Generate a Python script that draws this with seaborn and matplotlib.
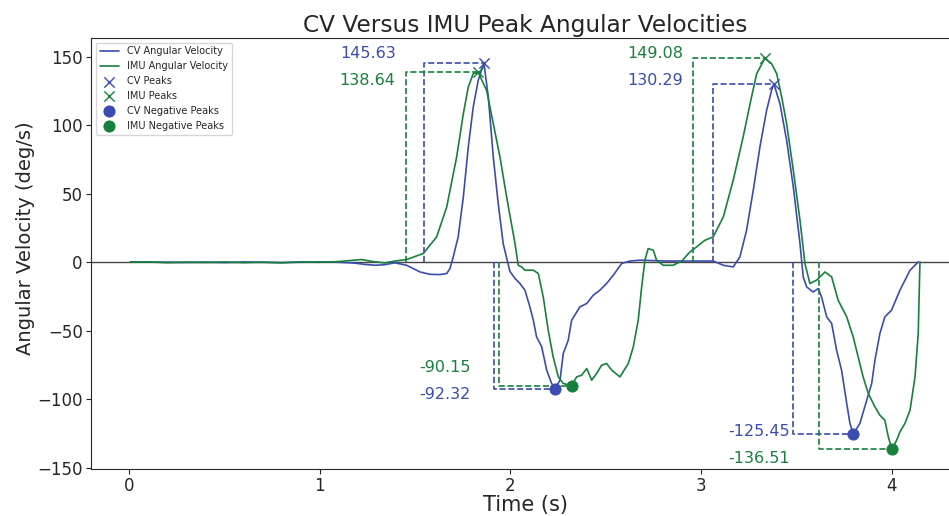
import matplotlib
matplotlib.use("Agg")
import matplotlib.pyplot as plt
import seaborn as sns
import pandas as pd

# CV (camera) angular velocity trace
cv_time = [0.008, 0.10, 0.20, 0.30, 0.40, 0.50, 0.60, 0.70, 0.80, 0.90, 1.00, 1.10,
           1.18, 1.24, 1.29, 1.34, 1.394, 1.456, 1.526, 1.578, 1.630, 1.666, 1.683,
           1.700, 1.726, 1.753, 1.779, 1.805, 1.831, 1.861, 1.884, 1.910, 1.936, 1.962,
           1.997, 2.024, 2.050, 2.076, 2.102, 2.120, 2.137, 2.164, 2.190, 2.216, 2.233,
           2.260, 2.277, 2.303, 2.321, 2.364, 2.400, 2.434, 2.469, 2.504, 2.539, 2.583,
           2.626, 2.679, 2.819, 2.993, 3.063, 3.116, 3.168, 3.203, 3.238, 3.273, 3.308,
           3.343, 3.369, 3.381, 3.413, 3.448, 3.483, 3.518, 3.535, 3.553, 3.587, 3.614,
           3.631, 3.658, 3.684, 3.710, 3.736, 3.763, 3.780, 3.797, 3.832, 3.868, 3.894,
           3.911, 3.937, 3.963, 3.998, 4.042, 4.095, 4.138]
cv_vel = [0.3, 0.2, 0.0, -0.2, 0.1, -0.3, 0.2, 0.0, -0.2, 0.0, 0.3, 0.0,
          -0.6, -1.6, -2.2, -1.8, -0.4, -2.2, -7.1, -8.8, -9.0, -8.2, -4.6,
          3.9, 18.5, 47.7, 84.2, 113.4, 132.8, 145.63, 120.7, 76.9, 42.8, 13.6,
          -6.6, -11.9, -15.5, -20.4, -32.6, -42.3, -54.5, -61.8, -78.8, -88.5, -92.32,
          -86.1, -66.6, -56.9, -42.3, -32.6, -30.1, -24.1, -20.4, -15.5, -9.5, -0.9,
          0.9, 1.5, 0.9, 0.9, 0.9, -2.2, -3.4, 3.9, 23.4, 52.6, 84.2,
          110.9, 125.5, 130.29, 115.8, 89.1, 55.0, 13.6, -10.7, -18.0, -21.7, -19.2,
          -25.3, -39.9, -44.7, -64.2, -78.8, -103.1, -117.7, -125.45, -117.7, -100.7, -88.5,
          -71.5, -52.0, -39.9, -35.0, -20.4, -5.8, 0.2]

# IMU angular velocity trace
imu_time = [0.008, 0.10, 0.20, 0.30, 0.40, 0.50, 0.60, 0.70, 0.80, 0.90, 1.00, 1.10,
            1.18, 1.22, 1.28, 1.34, 1.40, 1.456, 1.543, 1.613, 1.666, 1.718, 1.753,
            1.779, 1.805, 1.831, 1.875, 1.910, 1.945, 1.980, 2.024, 2.041, 2.059, 2.076,
            2.120, 2.146, 2.172, 2.198, 2.224, 2.251, 2.277, 2.321, 2.347, 2.373, 2.400,
            2.426, 2.452, 2.478, 2.504, 2.531, 2.574, 2.618, 2.644, 2.670, 2.688, 2.705,
            2.722, 2.749, 2.766, 2.801, 2.853, 2.898, 2.941, 2.976, 3.020, 3.063, 3.116,
            3.168, 3.220, 3.264, 3.291, 3.334, 3.369, 3.396, 3.422, 3.448, 3.483, 3.518,
            3.544, 3.570, 3.605, 3.649, 3.684, 3.718, 3.763, 3.797, 3.823, 3.849, 3.876,
            3.911, 3.937, 3.963, 3.981, 4.000, 4.025, 4.042, 4.068, 4.095, 4.121, 4.138,
            4.147]
imu_vel = [0.0, 0.2, -0.3, 0.1, -0.2, 0.2, -0.3, 0.0, -0.4, 0.3, 0.0, 0.5,
           1.5, 2.0, 0.5, -0.5, 1.0, 2.0, 6.4, 18.5, 40.4, 76.9, 108.5,
           128.0, 137.7, 138.64, 125.5, 101.2, 76.9, 47.7, 13.6, -2.2, -3.4, -5.8,
           -5.8, -8.2, -25.3, -49.6, -69.1, -83.7, -88.5, -90.15, -83.7, -82.5, -77.6,
           -86.1, -81.2, -75.2, -73.9, -78.8, -83.7, -73.9, -61.8, -42.3, -18.0, 1.5,
           10.0, 8.8, 1.5, -2.2, -2.2, 0.9, 7.5, 11.2, 16.1, 18.5, 33.1,
           59.9, 91.5, 120.7, 137.7, 149.08, 145.0, 137.7, 120.7, 101.2, 67.2, 30.7,
           -0.9, -15.5, -13.1, -7.1, -10.7, -27.7, -39.9, -54.5, -69.1, -83.7, -95.8,
           -105.6, -111.7, -115.3, -127.5, -136.51, -129.9, -123.9, -117.7, -108.0, -83.7, -52.0,
           0.2]

# detected peaks: time, value, and where the dashed guide starts
cv_peak_t = [1.861, 3.381]
cv_peak_v = [145.63, 130.29]
cv_peak_start = [1.548, 3.063]
imu_peak_t = [1.831, 3.334]
imu_peak_v = [138.64, 149.08]
imu_peak_start = [1.452, 2.958]

cv_neg_t = [2.233, 3.797]
cv_neg_v = [-92.32, -125.45]
cv_neg_start = [1.915, 3.479]
imu_neg_t = [2.321, 4.000]
imu_neg_v = [-90.15, -136.51]
imu_neg_start = [1.941, 3.619]

# label anchor points (right edge of text)
cv_peak_label = [(1.398, 152.5), (2.906, 132.8)]
imu_peak_label = [(1.398, 132.5), (2.906, 152.8)]
cv_neg_label = [(1.79, -96.6), (3.465, -123.9)]
imu_neg_label = [(1.79, -76.6), (3.465, -143.3)]

blue = "#3b4cb0"
green = "#17803d"

sns.set_style("ticks")
plt.rcParams['font.family'] = ['DejaVu Sans']

cv_df = pd.DataFrame({"t": cv_time, "v": cv_vel})
imu_df = pd.DataFrame({"t": imu_time, "v": imu_vel})

fig, ax = plt.subplots(figsize=(9.49, 5.16), dpi=100)
fig.subplots_adjust(left=0.0959, right=1.011, bottom=0.091, top=0.927)

ax.axhline(0, color="#444444", lw=1, zorder=1)

sns.lineplot(data=cv_df, x="t", y="v", color=blue, lw=1.2, label="CV Angular Velocity", ax=ax)
sns.lineplot(data=imu_df, x="t", y="v", color=green, lw=1.2, label="IMU Angular Velocity", ax=ax)

sns.scatterplot(x=cv_peak_t, y=cv_peak_v, marker="x", s=55, color=blue, linewidth=1,
                label="CV Peaks", ax=ax, zorder=5)
sns.scatterplot(x=imu_peak_t, y=imu_peak_v, marker="x", s=55, color=green, linewidth=1,
                label="IMU Peaks", ax=ax, zorder=5)
sns.scatterplot(x=cv_neg_t, y=cv_neg_v, marker="o", s=65, color=blue, edgecolor=blue,
                label="CV Negative Peaks", ax=ax, zorder=5)
sns.scatterplot(x=imu_neg_t, y=imu_neg_v, marker="o", s=65, color=green, edgecolor=green,
                label="IMU Negative Peaks", ax=ax, zorder=5)

# dashed guides from the start of each movement to the peak
def guide(starts, ts, vs, col):
    for s0, t, v in zip(starts, ts, vs):
        ax.plot([s0, s0, t], [0, v, v], ls="--", color=col, lw=1.2, zorder=2)

guide(cv_peak_start, cv_peak_t, cv_peak_v, blue)
guide(imu_peak_start, imu_peak_t, imu_peak_v, green)
guide(cv_neg_start, cv_neg_t, cv_neg_v, blue)
guide(imu_neg_start, imu_neg_t, imu_neg_v, green)

for pos, v in zip(cv_peak_label, cv_peak_v):
    ax.text(pos[0], pos[1], f"{v:.2f}", color=blue, fontsize=11.5, ha="right", va="center")
for pos, v in zip(imu_peak_label, imu_peak_v):
    ax.text(pos[0], pos[1], f"{v:.2f}", color=green, fontsize=11.5, ha="right", va="center")
for pos, v in zip(cv_neg_label, cv_neg_v):
    ax.text(pos[0], pos[1], f"{v:.2f}", color=blue, fontsize=11.5, ha="right", va="center")
for pos, v in zip(imu_neg_label, imu_neg_v):
    ax.text(pos[0], pos[1], f"{v:.2f}", color=green, fontsize=11.5, ha="right", va="center")

ax.set_xlim(-0.199, 4.354)
ax.set_ylim(-151, 164)
ax.set_xticks([0, 1, 2, 3, 4])
ax.set_yticks([-150, -100, -50, 0, 50, 100, 150])
ax.tick_params(labelsize=12, length=3.5, pad=2.5)
ax.set_title("CV Versus IMU Peak Angular Velocities", fontsize=16.7, pad=4)
ax.set_xlabel("Time (s)", fontsize=15, labelpad=0)
ax.set_ylabel("Angular Velocity (deg/s)", fontsize=14)
ax.yaxis.set_label_coords(-0.064, 0.535)
ax.legend(loc="upper left", fontsize=7)

plt.savefig("out.png", dpi=100)
